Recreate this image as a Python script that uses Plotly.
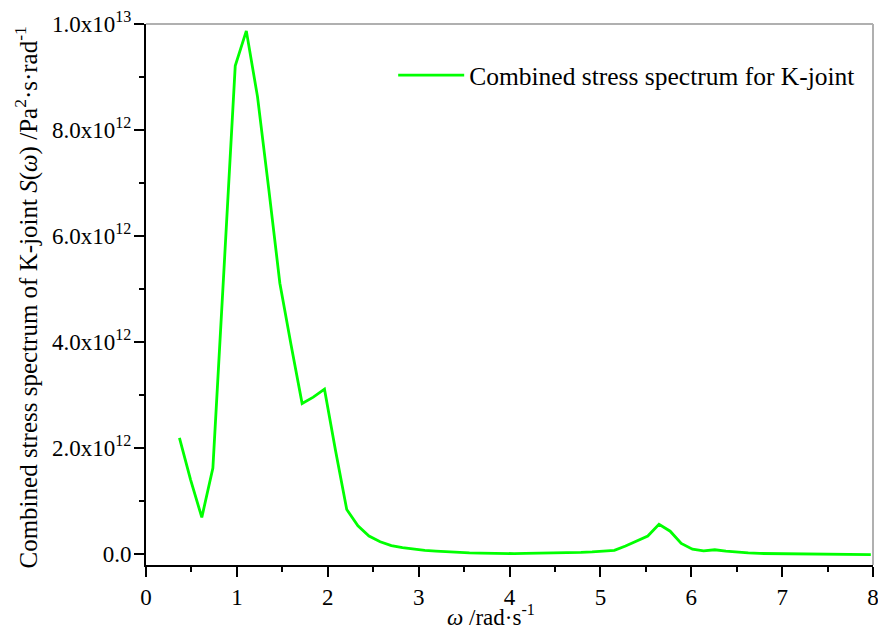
import plotly.graph_objects as go

# angular frequency (rad/s)
omega = [0.368, 0.491, 0.614, 0.736, 0.859, 0.982, 1.104, 1.227, 1.350, 1.473,
         1.596, 1.718, 1.841, 1.964, 2.086, 2.209, 2.332, 2.454, 2.577, 2.700,
         2.822, 2.945, 3.068, 3.190, 3.313, 3.436, 3.559, 3.681, 3.804, 3.927,
         4.050, 4.172, 4.295, 4.418, 4.540, 4.663, 4.786, 4.909, 5.031, 5.154,
         5.277, 5.400, 5.522, 5.645, 5.768, 5.890, 6.013, 6.136, 6.259, 6.381,
         6.504, 6.627, 6.750, 6.872, 6.995, 7.118, 7.240, 7.363, 7.486, 7.608,
         7.731, 7.854, 7.976]
# combined stress spectrum (x1e12 Pa^2·s·rad^-1)
spec_e12 = [2.19, 1.40, 0.69, 1.62, 5.40, 9.21, 9.87, 8.63, 6.90, 5.11,
            3.95, 2.84, 2.96, 3.11, 1.95, 0.84, 0.53, 0.34, 0.23, 0.16,
            0.12, 0.09, 0.07, 0.055, 0.04, 0.03, 0.02, 0.015, 0.01, 0.008,
            0.008, 0.01, 0.012, 0.015, 0.02, 0.025, 0.03, 0.04, 0.05, 0.07,
            0.15, 0.24, 0.34, 0.56, 0.43, 0.20, 0.09, 0.06, 0.08, 0.055,
            0.035, 0.02, 0.01, 0.008, 0.006, 0.005, 0.003, 0.0, -0.005, -0.01,
            -0.015, -0.015, -0.01]
spec = [v * 1e12 for v in spec_e12]

y_tickvals = [0, 2e12, 4e12, 6e12, 8e12, 1e13]
y_ticktext = ["0.0", "2.0x10<sup>12</sup>", "4.0x10<sup>12</sup>",
              "6.0x10<sup>12</sup>", "8.0x10<sup>12</sup>", "1.0x10<sup>13</sup>"]
y_minor = [1e12, 3e12, 5e12, 7e12, 9e12]
x_tickvals = [0, 1, 2, 3, 4, 5, 6, 7, 8]
x_minor = [0.5, 1.5, 2.5, 3.5, 4.5, 5.5, 6.5, 7.5]

FONT = "Liberation Serif"

fig = go.Figure()
fig.add_trace(go.Scatter(
    x=omega, y=spec, mode="lines",
    line=dict(color="#00FF00", width=2.8),
    name="Combined stress spectrum for K-joint",
))

fig.update_layout(
    width=878, height=627,
    margin=dict(l=146, r=5, t=24, b=62, autoexpand=False),
    paper_bgcolor="white", plot_bgcolor="white",
    font=dict(family=FONT, size=23, color="black"),
    showlegend=True,
    legend=dict(x=0.34, y=0.948, xanchor="left", yanchor="top",
                bgcolor="rgba(0,0,0,0)", borderwidth=0,
                font=dict(family=FONT, size=25.5), itemwidth=66),
    xaxis=dict(
        range=[0, 8], tickmode="array", tickvals=x_tickvals,
        ticktext=[str(v) for v in x_tickvals],
        showgrid=False, zeroline=False, automargin=False,
        ticklabeloverflow="allow",
        showline=True, linecolor="black", linewidth=2,
        ticks="outside", ticklen=10, tickwidth=2, tickcolor="black",
        minor=dict(tickvals=x_minor, ticks="outside", ticklen=5,
                   tickwidth=2, tickcolor="black", showgrid=False),
        tickfont=dict(family=FONT, size=23),
    ),
    yaxis=dict(
        range=[-0.2075e12, 1.0e13], tickmode="array", tickvals=y_tickvals,
        ticktext=y_ticktext,
        showgrid=False, zeroline=False, automargin=False,
        ticklabeloverflow="allow",
        showline=True, linecolor="black", linewidth=2,
        ticks="outside", ticklen=10, tickwidth=2, tickcolor="black",
        minor=dict(tickvals=y_minor, ticks="outside", ticklen=5,
                   tickwidth=2, tickcolor="black", showgrid=False),
        tickfont=dict(family=FONT, size=23),
        ticklabelstandoff=-2,
    ),
)

# thin grey frame on top and right
fig.add_shape(type="line", xref="paper", yref="paper", x0=0, x1=1, y0=1, y1=1,
              line=dict(color="#B0B0B0", width=2))
fig.add_shape(type="line", xref="paper", yref="paper", x0=1, x1=1, y0=0, y1=1,
              line=dict(color="#B0B0B0", width=2))

fig.add_annotation(
    text="<i>ω</i> /rad·s<sup>-1</sup>", xref="paper", yref="paper",
    x=0.474, y=-0.094, xanchor="center", yanchor="middle", showarrow=False,
    font=dict(family=FONT, size=23),
)
fig.add_annotation(
    text="Combined stress spectrum of K-joint <i>S</i>(<i>ω</i>) /Pa<sup>2</sup>·s·rad<sup>-1</sup>",
    xref="paper", yref="paper", x=-0.164, y=0.494, textangle=-90,
    xanchor="center", yanchor="middle", showarrow=False,
    font=dict(family=FONT, size=25),
)

fig.write_html("out.html")
